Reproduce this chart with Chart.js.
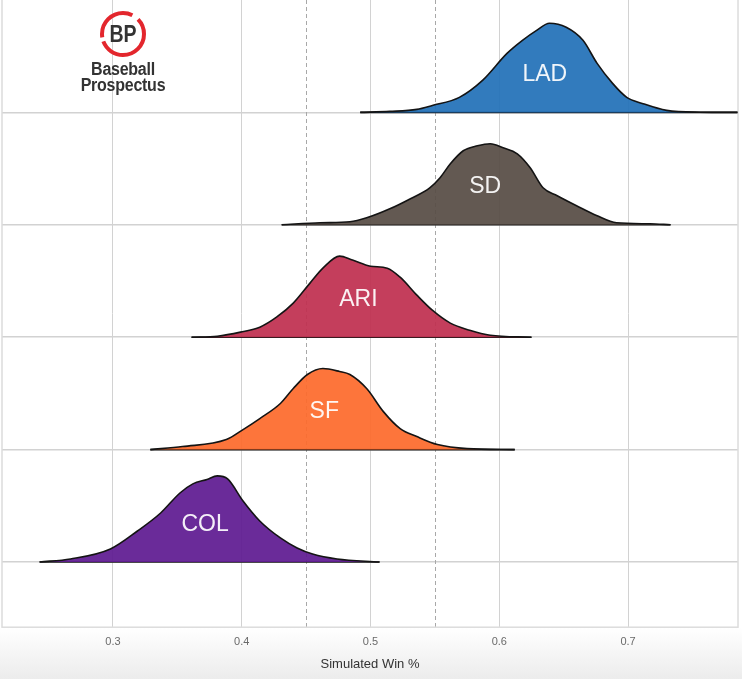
<!DOCTYPE html>
<html>
<head>
<meta charset="utf-8">
<script src="https://cdn.jsdelivr.net/npm/chart.js@4.4.1/dist/chart.umd.min.js"></script>
<style>
  html, body { margin: 0; padding: 0; }
  body {
    width: 742px; height: 679px; overflow: hidden; position: relative;
    background: linear-gradient(#ffffff 0px, #ffffff 628px, #ececec 679px);
    font-family: "Liberation Sans", Arial, sans-serif;
  }
  #wrap { position: absolute; left: 0; top: 0; width: 742px; height: 679px; }
  #logo { position: absolute; left: 62px; top: 9px; width: 122px; text-align: center; }
  #logo svg { display: block; margin: 0 auto; }
  #logo .word {
    font-family: "Liberation Sans", Arial, sans-serif;
    font-weight: bold; font-size: 18px; line-height: 16px; color: #333;
    transform: scaleX(0.89); letter-spacing: -0.3px;
  }
</style>
</head>
<body>
<div id="wrap"><canvas id="ridges" width="742" height="679"></canvas></div>
<div id="logo">
  <svg width="50" height="50" viewBox="0 0 50 50">
    <circle cx="25" cy="25" r="21" fill="none" stroke="#e3262d" stroke-width="4"
            stroke-dasharray="58 4 46 7 17 0"></circle>
    <text x="25" y="33" text-anchor="middle" font-family="Liberation Sans, Arial, sans-serif"
          font-weight="bold" font-size="23" fill="#333" transform="translate(25 0) scale(0.85 1) translate(-25 0)">BP</text>
  </svg>
  <div class="word" style="margin-top:2px">Baseball</div>
  <div class="word">Prospectus</div>
</div>
<script>
// teams, top row first
const teams = ['LAD', 'SD', 'ARI', 'SF', 'COL'];
const teamColors = ['#2271b8', '#574c45', '#c02f50', '#fd6a2c', '#5f1b91'];

// simulated win % grid and density
const ladX = [0.492, 0.515, 0.536, 0.548, 0.569, 0.587, 0.606, 0.618, 0.629, 0.639, 0.652, 0.665, 0.676, 0.688, 0.699, 0.711, 0.730, 0.756, 0.785];
const ladD = [0, 0.09, 0.27, 0.62, 1.34, 2.85, 5.25, 6.41, 7.30, 7.93, 7.57, 6.41, 4.36, 2.58, 1.34, 0.80, 0.18, 0.02, 0];

const sdX = [0.431, 0.461, 0.484, 0.497, 0.515, 0.531, 0.546, 0.554, 0.562, 0.572, 0.583, 0.593, 0.603, 0.614, 0.624, 0.634, 0.645, 0.660, 0.676, 0.691, 0.717, 0.733];
const sdD = [0, 0.18, 0.27, 0.62, 1.42, 2.32, 3.29, 4.19, 5.43, 6.59, 7.03, 7.21, 6.86, 6.32, 5.08, 3.29, 2.58, 1.69, 0.80, 0.18, 0.09, 0];

const ariX = [0.361, 0.381, 0.399, 0.414, 0.427, 0.440, 0.453, 0.463, 0.476, 0.486, 0.500, 0.513, 0.523, 0.536, 0.548, 0.562, 0.577, 0.593, 0.625];
const ariD = [0, 0.09, 0.45, 0.89, 1.78, 3.03, 4.81, 6.14, 7.21, 6.86, 6.32, 6.14, 5.34, 3.74, 2.40, 1.25, 0.62, 0.18, 0];

const sfX = [0.329, 0.354, 0.388, 0.401, 0.414, 0.430, 0.440, 0.451, 0.463, 0.476, 0.484, 0.497, 0.510, 0.523, 0.536, 0.552, 0.575, 0.612];
const sfD = [0, 0.27, 0.89, 1.78, 2.76, 4.10, 5.43, 6.68, 7.21, 6.95, 6.68, 5.43, 3.38, 1.87, 1.16, 0.45, 0.09, 0];

const colX = [0.243, 0.267, 0.298, 0.319, 0.337, 0.352, 0.362, 0.373, 0.381, 0.389, 0.401, 0.414, 0.430, 0.443, 0.455, 0.474, 0.507];
const colD = [0, 0.27, 1.16, 2.76, 4.36, 6.14, 6.95, 7.35, 7.66, 7.39, 5.43, 3.65, 2.14, 1.25, 0.71, 0.27, 0];

const xTicks = [0.3, 0.4, 0.5, 0.6, 0.7];
const refLines = [0.45, 0.55];

const xs = [ladX, sdX, ariX, sfX, colX];
const ds = [ladD, sdD, ariD, sfD, colD];
const ridgeScale = 0.1; // density -> row height

function hexA(hex, a) {
  const n = parseInt(hex.slice(1), 16);
  return 'rgba(' + (n >> 16) + ',' + ((n >> 8) & 255) + ',' + (n & 255) + ',' + a + ')';
}

function centroid(x, d) {
  var s = 0, w = 0;
  for (var i = 1; i < x.length; i++) {
    var dx = x[i] - x[i - 1], m = (d[i] + d[i - 1]) / 2;
    s += m * dx * (x[i] + x[i - 1]) / 2;
    w += m * dx;
  }
  return s / w;
}

const datasets = [];
teams.forEach(function (t, i) {
  const base = teams.length - 1 - i;
  datasets.push({
    label: t,
    data: xs[i].map(function (v, j) { return { x: v, y: base + ds[i][j] * ridgeScale }; }),
    borderColor: '#141414',
    borderWidth: 1.6,
    backgroundColor: hexA(teamColors[i], 0.93),
    fill: { value: base },
    pointRadius: 0,
    cubicInterpolationMode: 'monotone'
  });
  // baseline under the ridge
  datasets.push({
    label: t + ' base',
    data: [{ x: xs[i][0], y: base }, { x: xs[i][xs[i].length - 1], y: base }],
    borderColor: '#141414',
    borderWidth: 1.6,
    fill: false,
    pointRadius: 0
  });
});

const ridgeDecor = {
  id: 'ridgeDecor',
  beforeDatasetsDraw(chart) {
    const ctx = chart.ctx, a = chart.chartArea, x = chart.scales.x;
    ctx.save();
    ctx.strokeStyle = '#a8a8a8';
    ctx.lineWidth = 1;
    ctx.setLineDash([4, 3]);
    refLines.forEach(function (v) {
      const px = Math.round(x.getPixelForValue(v)) + 0.5;
      ctx.beginPath(); ctx.moveTo(px, a.top); ctx.lineTo(px, a.bottom); ctx.stroke();
    });
    ctx.setLineDash([]);
    ctx.strokeStyle = '#dcdcdc';
    ctx.lineWidth = 1.5;
    ctx.strokeRect(a.left, a.top - 2, a.right - a.left, a.bottom - a.top + 2);
    ctx.restore();
  },
  afterDatasetsDraw(chart) {
    const ctx = chart.ctx, x = chart.scales.x, y = chart.scales.y;
    ctx.save();
    ctx.fillStyle = 'rgba(255,255,255,0.93)';
    ctx.font = '23px "Liberation Sans", Arial, sans-serif';
    ctx.textAlign = 'center';
    ctx.textBaseline = 'alphabetic';
    teams.forEach(function (t, i) {
      const base = teams.length - 1 - i;
      ctx.fillText(t, x.getPixelForValue(centroid(xs[i], ds[i])), y.getPixelForValue(base + 0.28));
    });
    ctx.restore();
  }
};

new Chart(document.getElementById('ridges'), {
  type: 'line',
  data: { datasets: datasets },
  options: {
    responsive: false,
    animation: false,
    events: [],
    layout: { padding: { left: 2, right: 4, top: 0, bottom: 7 } },
    plugins: { legend: { display: false }, tooltip: { enabled: false } },
    scales: {
      x: {
        type: 'linear', min: 0.2138, max: 0.7854,
        afterBuildTicks: function (axis) { axis.ticks = xTicks.map(function (v) { return { value: v }; }); },
        ticks: { color: '#6a6a6a', font: { size: 11, family: '"Liberation Sans", Arial, sans-serif' }, padding: 8,
                 callback: function (v) { return v.toFixed(1); } },
        grid: { color: '#d2d2d2', lineWidth: 1, drawTicks: false },
        border: { display: false },
        title: { display: true, text: 'Simulated Win %', color: '#333', padding: { top: 0, bottom: 0 },
                 font: { size: 13, family: '"Liberation Sans", Arial, sans-serif' } }
      },
      y: {
        type: 'linear', min: -0.58, max: 5.0,
        afterBuildTicks: function (axis) { axis.ticks = [0, 1, 2, 3, 4].map(function (v) { return { value: v }; }); },
        ticks: { display: false },
        grid: { color: '#d2d2d2', lineWidth: 1.5, drawTicks: false },
        border: { display: false }
      }
    }
  },
  plugins: [ridgeDecor]
});
</script>
</body>
</html>
